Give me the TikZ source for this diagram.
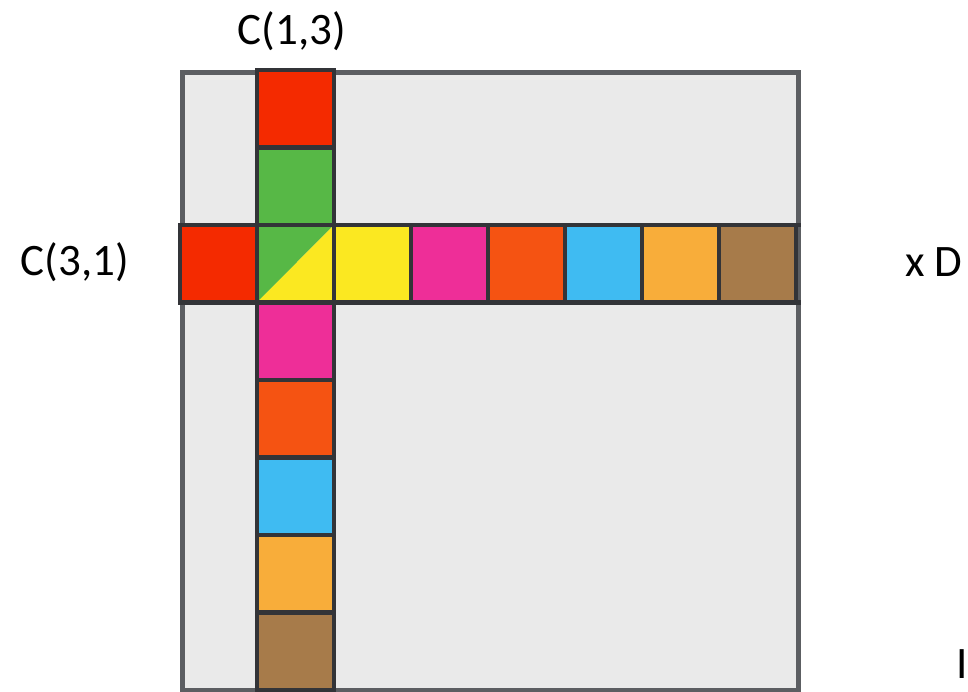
\documentclass[tikz,border=0pt]{standalone}
\usepackage{fontspec}
\setmainfont{Carlito}
\definecolor{bg}{HTML}{EAEAEA}
\definecolor{frame}{HTML}{5C5E62}
\definecolor{grid}{HTML}{333438}
\definecolor{cred}{HTML}{F42A00}
\definecolor{cgreen}{HTML}{57B846}
\definecolor{cyellow}{HTML}{FBE821}
\definecolor{cmag}{HTML}{EE2E98}
\definecolor{corr}{HTML}{F55312}
\definecolor{cblue}{HTML}{3FBBF2}
\definecolor{corange}{HTML}{F8AD3A}
\definecolor{cbrown}{HTML}{A77B4A}
\tikzset{
  cell/.style={draw=grid, line width=4.5pt, minimum width=77pt, minimum height=77.5pt, inner sep=0pt, outer sep=0pt},
  lbl/.style={font=\fontsize{45}{54}\selectfont, inner sep=0pt}
}
\begin{document}
\begin{tikzpicture}[x=1pt,y=-1pt]
\useasboundingbox (0,0) rectangle (968,691);
% matrix background
\node[fill=bg, draw=frame, line width=4.5pt, minimum width=616pt, minimum height=618pt, inner sep=0pt, anchor=north west] (mat) at (180,70) {};
% column cells (column 1)
\foreach \r/\c in {0/cred,1/cgreen,3/cmag,4/corr,5/cblue,6/corange,7/cbrown}{
  \node[cell, fill=\c] (col\r) at ({180+1.5*77},{70+(\r+0.5)*77.5}) {};
}
% row cells (row 2)
\foreach \k/\c in {0/cred,2/cyellow,3/cmag,4/corr,5/cblue,6/corange,7/cbrown}{
  \node[cell, fill=\c] (row\k) at ({180+(\k+0.5)*77},{70+2.5*77.5}) {};
}
% diagonal cell
\node[cell] (diag) at ({180+1.5*77},{70+2.5*77.5}) {};
\fill[cgreen] (diag.south west) -- (diag.north west) -- (diag.north east) -- cycle;
\fill[cyellow] (diag.south west) -- (diag.south east) -- (diag.north east) -- cycle;
\draw[grid, line width=4.5pt] (diag.south west) rectangle (diag.north east);
% full grid lines
\draw[grid, line width=4.5pt] (mat.north west -| col0.west) -- (mat.south west -| col0.west);
\draw[grid, line width=4.5pt] (mat.north west -| col0.east) -- (mat.south west -| col0.east);
\draw[grid, line width=4.5pt] (mat.north west |- row0.north) -- (mat.north east |- row0.north);
\draw[grid, line width=4.5pt] (mat.north west |- row0.south) -- (mat.north east |- row0.south);
% labels
\node[lbl] (c13) at (292,31) {C(1,3)};
\node[lbl] (c31) at (75,262) {C(3,1)};
\node[lbl] (xd) at (934,262) {x D};
\node[lbl] (iota) at (962,664) {I};
\end{tikzpicture}
\end{document}
